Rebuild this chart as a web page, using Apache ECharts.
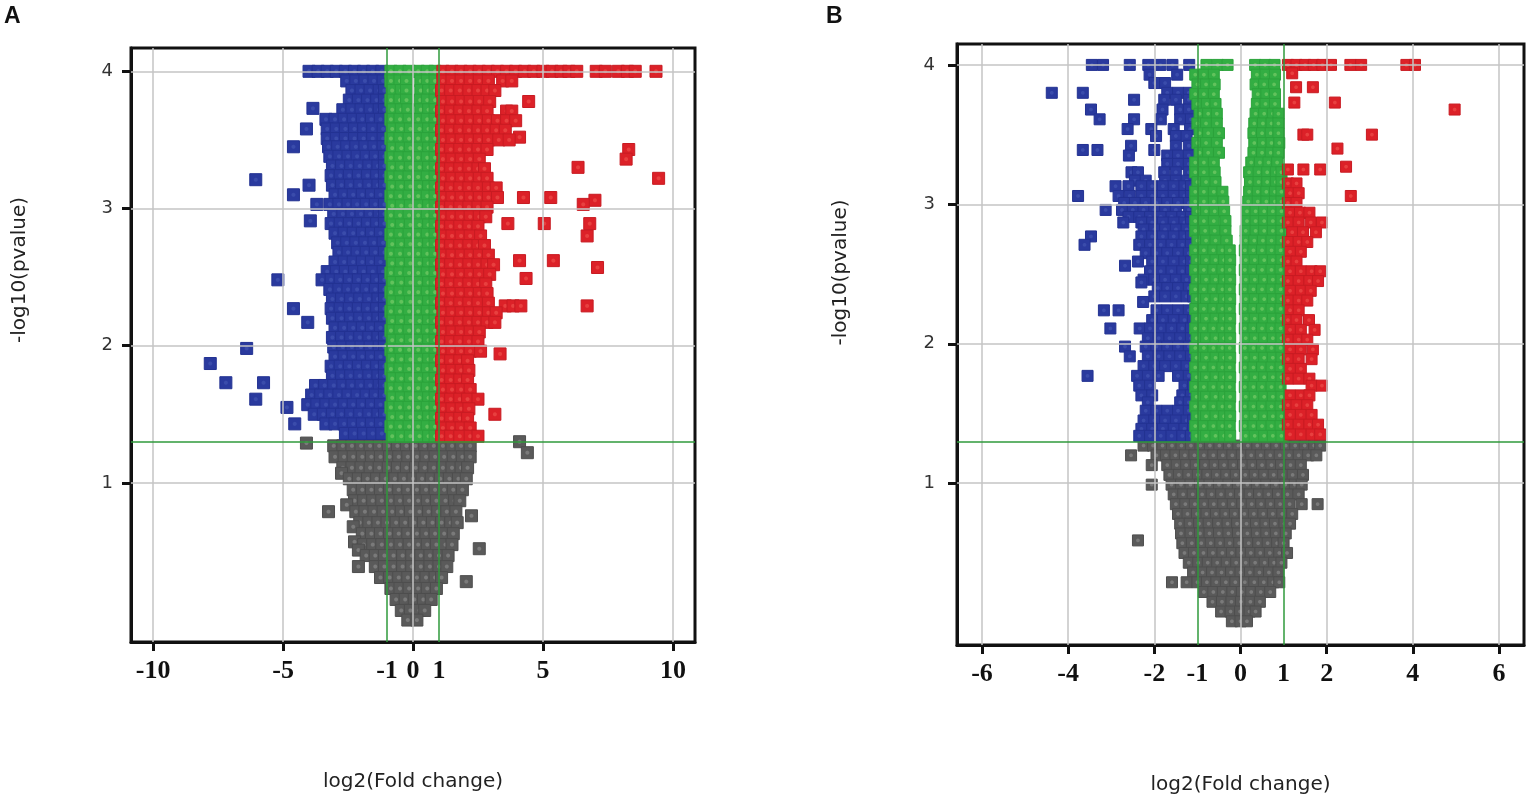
<!DOCTYPE html>
<html>
<head>
<meta charset="utf-8">
<title>volcano plots</title>
<script src="https://cdn.jsdelivr.net/npm/echarts@6/dist/echarts.min.js"></script>
<style>
html,body{margin:0;padding:0;background:#fff}
#main{width:1535px;height:807px}
</style>
</head>
<body>
<div id="main"></div>
<script>
// axis ranges and tick values
var rangeXA = [-10.85, 10.85];
var rangeXB = [-6.58, 6.58];
var rangeYA = [-0.16, 4.17];
var rangeYB = [-0.16, 4.15];
var xTicksA = [-10, -5, 0, 5, 10];
var xLabelsA = [-10, -5, -1, 0, 1, 5, 10];
var xTicksB = [-6, -4, -2, 0, 2, 4, 6];
var xLabelsB = [-6, -4, -2, -1, 0, 1, 2, 4, 6];
var yTicks = [1, 2, 3, 4];
var cutFC = [-1, 1];     // log2 fold change cut-offs
var cutP = 1.3;          // -log10(0.05)

// every row: [ -log10(p), log2FC, log2FC, ... ]
// ---- panel A ----
var blueA = [
 [4.00,-4.0,-3.65,-3.3,-2.95,-2.6,-2.25,-1.9,-1.55,-1.2],
 [3.93,-2.55,-2.2,-1.85,-1.5,-1.15],
 [3.86,-2.35,-2.0,-1.65,-1.3,-1.1],
 [3.79,-2.45,-2.1,-1.75,-1.4,-1.1],
 [3.73,-3.85],
 [3.72,-2.7,-2.35,-2.0,-1.65,-1.3,-1.1],
 [3.65,-3.35,-3.0,-2.65,-2.3,-1.95,-1.6,-1.25],
 [3.58,-4.1,-3.3,-2.95,-2.6,-2.25,-1.9,-1.55,-1.15],
 [3.51,-3.3,-2.95,-2.6,-2.25,-1.9,-1.55,-1.15],
 [3.45,-4.6,-3.25,-2.9,-2.55,-2.2,-1.85,-1.5,-1.15],
 [3.38,-3.2,-2.85,-2.5,-2.15,-1.8,-1.45,-1.1],
 [3.31,-3.1,-2.75,-2.4,-2.05,-1.7,-1.35,-1.1],
 [3.24,-3.15,-2.8,-2.45,-2.1,-1.75,-1.4,-1.1],
 [3.21,-6.05],
 [3.17,-4.0,-3.1,-2.75,-2.4,-2.05,-1.7,-1.35,-1.1],
 [3.10,-4.6,-3.0,-2.65,-2.3,-1.95,-1.6,-1.25],
 [3.03,-3.7,-3.2,-2.85,-2.5,-2.15,-1.8,-1.45,-1.1],
 [2.96,-3.05,-2.7,-2.35,-2.0,-1.65,-1.3,-1.1],
 [2.91,-3.95],
 [2.89,-3.15,-2.8,-2.45,-2.1,-1.75,-1.4,-1.1],
 [2.82,-3.0,-2.65,-2.3,-1.95,-1.6,-1.25],
 [2.75,-2.9,-2.55,-2.2,-1.85,-1.5,-1.15],
 [2.68,-2.85,-2.5,-2.15,-1.8,-1.45,-1.1],
 [2.61,-3.0,-2.65,-2.3,-1.95,-1.6,-1.25],
 [2.54,-3.3,-2.95,-2.6,-2.25,-1.9,-1.55,-1.15],
 [2.48,-5.2,-3.5,-3.15,-2.8,-2.45,-2.1,-1.75,-1.4,-1.1],
 [2.41,-3.2,-2.85,-2.5,-2.15,-1.8,-1.45,-1.1],
 [2.34,-3.1,-2.75,-2.4,-2.05,-1.7,-1.35,-1.1],
 [2.27,-4.6,-3.15,-2.8,-2.45,-2.1,-1.75,-1.4,-1.1],
 [2.20,-3.1,-2.75,-2.4,-2.05,-1.7,-1.35,-1.1],
 [2.17,-4.05],
 [2.13,-3.0,-2.65,-2.3,-1.95,-1.6,-1.25],
 [2.06,-3.1,-2.75,-2.4,-2.05,-1.7,-1.35,-1.1],
 [1.99,-3.05,-2.7,-2.35,-2.0,-1.65,-1.3,-1.1],
 [1.98,-6.4],
 [1.92,-3.0,-2.65,-2.3,-1.95,-1.6,-1.25],
 [1.87,-7.8],
 [1.85,-3.15,-2.8,-2.45,-2.1,-1.75,-1.4,-1.1],
 [1.78,-3.1,-2.75,-2.4,-2.05,-1.7,-1.35,-1.1],
 [1.73,-7.2,-5.75],
 [1.71,-3.75,-3.4,-3.05,-2.7,-2.35,-2.0,-1.65,-1.3,-1.1],
 [1.64,-3.9,-3.55,-3.2,-2.85,-2.5,-2.15,-1.8,-1.45,-1.1],
 [1.61,-6.05],
 [1.57,-4.05,-3.7,-3.35,-3.0,-2.65,-2.3,-1.95,-1.6,-1.25],
 [1.55,-4.85],
 [1.50,-3.8,-3.45,-3.1,-2.75,-2.4,-2.05,-1.7,-1.35,-1.1],
 [1.43,-4.55,-3.35,-3.0,-2.65,-2.3,-1.95,-1.6,-1.25],
 [1.36,-2.6,-2.25,-1.9,-1.55,-1.2]
];
var greenA = [
 [4.00,-0.85,-0.5,-0.15,0.2,0.55,0.85],
 [3.93,-0.85,-0.5,-0.25,0.3,0.55,0.85],
 [3.86,-0.8,-0.45,-0.25,0.3,0.6,0.85],
 [3.79,-0.85,-0.5,-0.25,0.28,0.55,0.85],
 [3.72,-0.8,-0.45,-0.2,0.3,0.6,0.85],
 [3.65,-0.85,-0.5,-0.15,0.2,0.55,0.85],
 [3.58,-0.8,-0.45,-0.1,0.25,0.6,0.85],
 [3.51,-0.85,-0.5,-0.15,0.2,0.55,0.85],
 [3.44,-0.8,-0.45,-0.1,0.25,0.6,0.85],
 [3.37,-0.85,-0.5,-0.15,0.2,0.55,0.85],
 [3.30,-0.8,-0.45,-0.1,0.25,0.6,0.85],
 [3.23,-0.85,-0.5,-0.15,0.2,0.55,0.85],
 [3.16,-0.8,-0.45,-0.1,0.25,0.6,0.85],
 [3.09,-0.85,-0.5,-0.15,0.2,0.55,0.85],
 [3.02,-0.8,-0.45,-0.1,0.25,0.6,0.85],
 [2.95,-0.85,-0.5,-0.15,0.2,0.55,0.85],
 [2.88,-0.8,-0.45,-0.1,0.25,0.6,0.85],
 [2.81,-0.85,-0.5,-0.15,0.2,0.55,0.85],
 [2.74,-0.8,-0.45,-0.1,0.25,0.6,0.85],
 [2.67,-0.85,-0.5,-0.15,0.2,0.55,0.85],
 [2.60,-0.8,-0.45,-0.1,0.25,0.6,0.85],
 [2.53,-0.85,-0.5,-0.15,0.2,0.55,0.85],
 [2.46,-0.8,-0.45,-0.1,0.25,0.6,0.85],
 [2.39,-0.85,-0.5,-0.15,0.2,0.55,0.85],
 [2.32,-0.8,-0.45,-0.1,0.25,0.6,0.85],
 [2.25,-0.85,-0.5,-0.15,0.2,0.55,0.85],
 [2.18,-0.8,-0.45,-0.1,0.25,0.6,0.85],
 [2.11,-0.85,-0.5,-0.15,0.2,0.55,0.85],
 [2.04,-0.8,-0.45,-0.1,0.25,0.6,0.85],
 [1.97,-0.85,-0.5,-0.15,0.2,0.55,0.85],
 [1.90,-0.8,-0.45,-0.1,0.25,0.6,0.85],
 [1.83,-0.85,-0.5,-0.15,0.2,0.55,0.85],
 [1.76,-0.8,-0.45,-0.1,0.25,0.6,0.85],
 [1.69,-0.85,-0.5,-0.15,0.2,0.55,0.85],
 [1.62,-0.8,-0.45,-0.1,0.25,0.6,0.85],
 [1.55,-0.85,-0.5,-0.15,0.2,0.55,0.85],
 [1.48,-0.8,-0.45,-0.1,0.25,0.6,0.85],
 [1.41,-0.85,-0.5,-0.15,0.2,0.55,0.85],
 [1.34,-0.8,-0.45,-0.1,0.25,0.6,0.85]
];
var redA = [
 [4.00,1.15,1.5,1.85,2.2,2.55,2.9,3.25,3.6,3.95,4.3,4.65,5.0,5.35,5.7,6.0,6.3,7.05,7.4,7.9,8.25,8.55,9.35],
 [3.93,1.15,1.5,1.85,2.2,2.55,2.9,3.45,3.8],
 [3.86,1.1,1.45,1.8,2.15,2.5,2.85,3.15],
 [3.78,1.15,1.5,1.85,2.2,2.55,2.95,4.45],
 [3.71,1.1,1.45,1.8,2.15,2.5,2.85,3.6,3.8],
 [3.64,1.15,1.5,1.85,2.2,2.55,2.9,3.25,3.6,3.95],
 [3.57,1.1,1.45,1.8,2.15,2.5,2.85,3.2,3.55],
 [3.52,4.1],
 [3.50,1.15,1.5,1.85,2.2,2.55,2.9,3.3,3.7],
 [3.43,1.1,1.45,1.8,2.15,2.5,2.85,8.3],
 [3.36,1.15,1.5,1.85,2.2,2.55,8.2],
 [3.30,6.35],
 [3.29,1.1,1.45,1.8,2.15,2.5,2.75],
 [3.22,1.15,1.5,1.85,2.2,2.55,2.85,9.45],
 [3.15,1.1,1.45,1.8,2.15,2.5,2.9,3.2],
 [3.08,1.15,1.5,1.85,2.2,2.55,2.9,3.25,4.25,5.3],
 [3.06,7.0],
 [3.03,6.55],
 [3.01,1.1,1.45,1.8,2.15,2.5,2.85],
 [2.94,1.15,1.5,1.85,2.2,2.55,2.8],
 [2.89,3.65,5.05,6.8],
 [2.87,1.1,1.45,1.8,2.15,2.5],
 [2.80,1.15,1.5,1.85,2.2,2.6,6.7],
 [2.73,1.1,1.45,1.8,2.15,2.5,2.75],
 [2.66,1.15,1.5,1.85,2.2,2.55,2.9],
 [2.62,4.1,5.4],
 [2.59,1.1,1.45,1.8,2.15,2.5,2.85,3.1],
 [2.57,7.1],
 [2.52,1.15,1.5,1.85,2.2,2.55,2.95],
 [2.49,4.35],
 [2.45,1.1,1.45,1.8,2.15,2.5,2.8],
 [2.38,1.15,1.5,1.85,2.2,2.55,2.85],
 [2.31,1.1,1.45,1.8,2.15,2.5,2.9],
 [2.29,3.55,3.85,4.15,6.7],
 [2.24,1.15,1.5,1.85,2.2,2.55,2.9,3.2],
 [2.17,1.1,1.45,1.8,2.15,2.5,2.85,3.15],
 [2.10,1.15,1.5,1.85,2.2,2.55],
 [2.03,1.1,1.45,1.8,2.15,2.5],
 [1.96,1.15,1.5,1.85,2.2,2.6],
 [1.94,3.35],
 [1.89,1.1,1.45,1.8,2.1],
 [1.82,1.15,1.5,1.85,2.15],
 [1.75,1.1,1.45,1.8,2.1],
 [1.68,1.15,1.5,1.85,2.2],
 [1.61,1.1,1.45,1.8,2.1,2.5],
 [1.54,1.15,1.5,1.85,2.15],
 [1.50,3.15],
 [1.47,1.1,1.45,1.8,2.1],
 [1.40,1.15,1.5,1.85,2.2],
 [1.34,1.1,1.45,1.8,2.2,2.5]
];
var grayA = [
 [1.30,4.1],
 [1.29,-4.1],
 [1.27,-3.05,-2.7,-2.35,-2.0,-1.65,-1.3,-0.95,-0.6,-0.25,0.1,0.45,0.8,1.15,1.5,1.85,2.2],
 [1.22,4.4],
 [1.19,-3.0,-2.65,-2.3,-1.95,-1.6,-1.25,-0.9,-0.55,-0.2,0.15,0.5,0.85,1.2,1.55,1.9,2.2],
 [1.11,-2.7,-2.35,-2.0,-1.65,-1.3,-0.95,-0.6,-0.25,0.1,0.45,0.8,1.15,1.5,1.85,2.1],
 [1.07,-2.75],
 [1.03,-2.45,-2.1,-1.75,-1.4,-1.05,-0.7,-0.35,0.0,0.35,0.7,1.05,1.4,1.75,2.05],
 [0.95,-2.3,-1.95,-1.6,-1.25,-0.9,-0.55,-0.2,0.15,0.5,0.85,1.2,1.55,1.9],
 [0.87,-2.25,-1.9,-1.55,-1.2,-0.85,-0.5,-0.15,0.2,0.55,0.9,1.25,1.6,1.8],
 [0.84,-2.55],
 [0.79,-3.25,-2.2,-1.85,-1.5,-1.15,-0.8,-0.45,-0.1,0.25,0.6,0.95,1.3,1.65],
 [0.76,2.25],
 [0.71,-2.05,-1.7,-1.35,-1.0,-0.65,-0.3,0.05,0.4,0.75,1.1,1.45,1.7],
 [0.68,-2.3],
 [0.63,-1.95,-1.6,-1.25,-0.9,-0.55,-0.2,0.15,0.5,0.85,1.2,1.55],
 [0.57,-2.25],
 [0.55,-1.9,-1.55,-1.2,-0.85,-0.5,-0.15,0.2,0.55,0.9,1.25,1.5],
 [0.52,2.55],
 [0.51,-2.1],
 [0.47,-1.8,-1.45,-1.1,-0.75,-0.4,-0.05,0.3,0.65,1.0,1.35],
 [0.39,-2.1,-1.45,-1.1,-0.75,-0.4,-0.05,0.3,0.65,1.0,1.3],
 [0.31,-1.25,-0.9,-0.55,-0.2,0.15,0.5,0.85,1.1],
 [0.28,2.05],
 [0.23,-0.85,-0.5,-0.15,0.2,0.55,0.9],
 [0.15,-0.65,-0.3,0.05,0.4,0.7],
 [0.07,-0.45,-0.1,0.25,0.45],
 [0.00,-0.2,0.15]
];

// ---- panel B ----
var blueB = [
 [4.00,-3.45,-3.19,-2.57,-2.14,-1.86,-1.58,-1.19],
 [3.93,-2.11,-1.47],
 [3.87,-2.0,-1.75],
 [3.80,-4.38,-3.66,-1.7,-1.45,-1.2],
 [3.75,-2.47,-1.77,-1.5,-1.2],
 [3.68,-3.47,-1.81,-1.4,-1.2],
 [3.61,-3.27,-2.47,-1.85,-1.4,-1.15],
 [3.54,-2.62,-2.07,-1.55,-1.17],
 [3.49,-1.96,-1.5,-1.25],
 [3.42,-2.54,-1.5,-1.2],
 [3.39,-3.66,-3.32,-2.0],
 [3.35,-2.59,-1.7,-1.45,-1.2],
 [3.29,-1.7,-1.45,-1.2],
 [3.23,-2.53,-2.38,-1.77,-1.5,-1.2],
 [3.17,-2.45,-2.2,-1.75,-1.5,-1.25],
 [3.13,-2.9,-2.6,-2.3,-2.05,-1.8,-1.55,-1.3,-1.15],
 [3.06,-3.77,-2.83,-2.57,-2.3,-2.05,-1.8,-1.55,-1.3,-1.15],
 [3.01,-2.7,-2.45,-2.2,-1.95,-1.7,-1.45,-1.2],
 [2.96,-3.13,-2.75,-2.5,-2.25,-2.0,-1.75,-1.5,-1.2],
 [2.91,-2.6,-2.35,-2.1,-1.85,-1.6,-1.35,-1.15],
 [2.87,-2.72,-2.3,-2.05,-1.8,-1.55,-1.3,-1.15],
 [2.82,-2.25,-2.0,-1.75,-1.5,-1.25],
 [2.77,-3.47,-2.3,-2.05,-1.8,-1.55,-1.3,-1.15],
 [2.71,-3.62,-2.35,-2.1,-1.85,-1.6,-1.35,-1.15],
 [2.65,-2.2,-1.95,-1.7,-1.45,-1.2],
 [2.59,-2.38,-2.05,-1.8,-1.55,-1.3,-1.15],
 [2.56,-2.68],
 [2.52,-2.1,-1.85,-1.6,-1.35,-1.15],
 [2.46,-2.25,-2.0,-1.75,-1.5,-1.25],
 [2.44,-2.3],
 [2.40,-1.92,-1.7,-1.45,-1.2],
 [2.34,-2.0,-1.75,-1.5,-1.25,-1.1],
 [2.30,-2.26],
 [2.24,-3.17,-2.83,-1.95,-1.7,-1.45,-1.2],
 [2.17,-2.05,-1.8,-1.55,-1.3,-1.1],
 [2.11,-3.02,-2.34,-2.1,-1.85,-1.6,-1.35,-1.15],
 [2.04,-2.15,-1.9,-1.65,-1.4,-1.15],
 [1.98,-2.68,-2.2,-1.95,-1.7,-1.45,-1.2],
 [1.91,-2.57,-2.15,-1.9,-1.65,-1.4,-1.15],
 [1.84,-2.25,-2.0,-1.75,-1.5,-1.25],
 [1.77,-3.55,-2.4,-2.15,-1.9,-1.45,-1.2],
 [1.70,-2.35,-2.1,-1.3,-1.1],
 [1.63,-2.3,-2.05,-1.35,-1.15],
 [1.58,-2.15,-1.4,-1.2],
 [1.52,-2.2,-1.95,-1.7,-1.45,-1.2],
 [1.45,-2.25,-2.0,-1.75,-1.5,-1.25,-1.1],
 [1.39,-2.3,-2.05,-1.8,-1.55,-1.3,-1.1],
 [1.34,-2.35,-2.1,-1.85,-1.6,-1.35,-1.15]
];
var greenB = [
 [4.00,-0.79,-0.53,-0.3,0.34,0.57,0.79],
 [3.93,-1.05,-0.85,-0.62,0.38,0.58,0.8],
 [3.86,-1.0,-0.8,-0.6,0.35,0.55,0.78],
 [3.79,-1.05,-0.85,-0.62,0.4,0.6,0.8],
 [3.72,-1.0,-0.78,-0.58,0.38,0.58,0.8],
 [3.65,-0.95,-0.75,-0.55,0.35,0.55,0.75,0.88],
 [3.58,-1.0,-0.8,-0.55,0.32,0.52,0.72,0.88],
 [3.51,-0.95,-0.75,-0.5,0.3,0.5,0.7,0.88],
 [3.44,-1.0,-0.8,-0.55,0.32,0.52,0.72,0.9],
 [3.37,-0.95,-0.75,-0.5,0.3,0.5,0.7,0.88],
 [3.30,-1.05,-0.85,-0.62,0.25,0.45,0.65,0.85],
 [3.23,-1.05,-0.85,-0.6,0.2,0.42,0.62,0.82,0.95],
 [3.16,-1.0,-0.8,-0.58,0.22,0.42,0.62,0.82,0.95],
 [3.09,-1.05,-0.85,-0.62,-0.42,0.2,0.4,0.6,0.8,0.95],
 [3.02,-1.05,-0.85,-0.62,-0.4,0.18,0.4,0.6,0.8,0.95],
 [2.95,-1.0,-0.8,-0.6,-0.38,0.15,0.35,0.55,0.75,0.95],
 [2.88,-1.05,-0.85,-0.62,-0.35,0.15,0.35,0.55,0.75,0.95],
 [2.81,-1.05,-0.82,-0.6,-0.35,0.12,0.35,0.55,0.75,0.95],
 [2.74,-1.0,-0.8,-0.58,-0.32,0.12,0.32,0.52,0.72,0.95],
 [2.67,-1.05,-0.85,-0.63,-0.42,-0.25,0.1,0.3,0.5,0.72,0.93],
 [2.60,-1.02,-0.8,-0.58,-0.38,-0.24,0.12,0.33,0.55,0.75,0.95],
 [2.53,-1.05,-0.85,-0.63,-0.42,-0.25,0.1,0.3,0.5,0.72,0.93],
 [2.46,-1.02,-0.8,-0.58,-0.38,-0.24,0.12,0.33,0.55,0.75,0.95],
 [2.39,-1.05,-0.85,-0.63,-0.42,-0.25,0.1,0.3,0.5,0.72,0.93],
 [2.32,-1.02,-0.8,-0.58,-0.38,-0.24,0.12,0.33,0.55,0.75,0.95],
 [2.25,-1.05,-0.85,-0.63,-0.42,-0.25,0.1,0.3,0.5,0.72,0.93],
 [2.18,-1.02,-0.8,-0.58,-0.38,-0.24,0.12,0.33,0.55,0.75,0.95],
 [2.11,-1.05,-0.85,-0.63,-0.42,-0.25,0.1,0.3,0.5,0.72,0.93],
 [2.04,-1.02,-0.8,-0.58,-0.38,-0.24,0.12,0.33,0.55,0.75,0.95],
 [1.97,-1.05,-0.85,-0.63,-0.42,-0.25,0.1,0.3,0.5,0.72,0.93],
 [1.90,-1.02,-0.8,-0.58,-0.38,-0.24,0.12,0.33,0.55,0.75,0.95],
 [1.83,-1.05,-0.85,-0.63,-0.42,-0.25,0.1,0.3,0.5,0.72,0.93],
 [1.76,-1.02,-0.8,-0.58,-0.38,-0.24,0.12,0.33,0.55,0.75,0.95],
 [1.69,-1.05,-0.85,-0.63,-0.42,-0.25,0.1,0.3,0.5,0.72,0.93],
 [1.62,-1.02,-0.8,-0.58,-0.38,-0.24,0.12,0.33,0.55,0.75,0.95],
 [1.55,-1.05,-0.85,-0.63,-0.42,-0.25,0.1,0.3,0.5,0.72,0.93],
 [1.48,-1.02,-0.8,-0.58,-0.38,-0.24,0.12,0.33,0.55,0.75,0.95],
 [1.41,-1.05,-0.85,-0.63,-0.42,-0.25,0.1,0.3,0.5,0.72,0.93],
 [1.34,-1.02,-0.8,-0.58,-0.38,-0.24,0.12,0.33,0.55,0.75,0.95]
];
var redB = [
 [4.00,1.1,1.3,1.5,1.7,1.9,2.1,2.55,2.8,3.85,4.05],
 [3.94,1.2],
 [3.84,1.29,1.68],
 [3.73,1.25,2.19],
 [3.68,4.97],
 [3.50,1.46,1.55,3.05],
 [3.40,2.25],
 [3.27,2.45],
 [3.25,1.1,1.46,1.85],
 [3.15,1.1,1.3],
 [3.08,1.15,1.35],
 [3.06,2.56],
 [3.01,1.1,1.3],
 [2.94,1.15,1.38,1.6],
 [2.87,1.1,1.35,1.63,1.89],
 [2.80,1.2,1.45,1.75],
 [2.73,1.1,1.35,1.55],
 [2.66,1.15,1.4],
 [2.59,1.1,1.3],
 [2.52,1.15,1.4,1.65,1.85],
 [2.45,1.1,1.35,1.6,1.8],
 [2.38,1.15,1.4,1.63],
 [2.31,1.1,1.35,1.55],
 [2.24,1.15,1.35],
 [2.17,1.1,1.3,1.59],
 [2.10,1.15,1.4,1.72],
 [2.03,1.1,1.35,1.55],
 [1.96,1.15,1.4,1.68],
 [1.89,1.1,1.35,1.65],
 [1.82,1.15,1.4],
 [1.75,1.1,1.35,1.6],
 [1.70,1.65,1.89],
 [1.63,1.15,1.4,1.6],
 [1.56,1.1,1.3,1.55],
 [1.49,1.15,1.4,1.65],
 [1.42,1.1,1.35,1.6,1.8],
 [1.35,1.15,1.4,1.65,1.85]
];
var grayB = [
 [1.27,-2.25,-2.03,-1.81,-1.59,-1.37,-1.15,-0.93,-0.71,-0.49,-0.27,-0.05,0.17,0.39,0.61,0.83,1.05,1.27,1.49,1.71,1.85],
 [1.20,-2.54,-1.95,-1.73,-1.51,-1.29,-1.07,-0.85,-0.63,-0.41,-0.19,0.03,0.25,0.47,0.69,0.91,1.13,1.35,1.57,1.76],
 [1.13,-2.06,-1.7,-1.48,-1.26,-1.04,-0.82,-0.6,-0.38,-0.16,0.06,0.28,0.5,0.72,0.94,1.16,1.4],
 [1.06,-1.65,-1.43,-1.21,-0.99,-0.77,-0.55,-0.33,-0.11,0.11,0.33,0.55,0.77,0.99,1.21,1.45],
 [0.99,-2.06,-1.6,-1.38,-1.16,-0.94,-0.72,-0.5,-0.28,-0.06,0.16,0.38,0.6,0.82,1.04,1.26,1.42],
 [0.92,-1.55,-1.33,-1.11,-0.89,-0.67,-0.45,-0.23,-0.01,0.21,0.43,0.65,0.87,1.09,1.35],
 [0.85,-1.5,-1.28,-1.06,-0.84,-0.62,-0.4,-0.18,0.04,0.26,0.48,0.7,0.92,1.14,1.42,1.79],
 [0.78,-1.45,-1.23,-1.01,-0.79,-0.57,-0.35,-0.13,0.09,0.31,0.53,0.75,0.97,1.2],
 [0.71,-1.4,-1.18,-0.96,-0.74,-0.52,-0.3,-0.08,0.14,0.36,0.58,0.8,1.02,1.15],
 [0.64,-1.38,-1.16,-0.94,-0.72,-0.5,-0.28,-0.06,0.16,0.38,0.6,0.82,1.05],
 [0.59,-2.38],
 [0.57,-1.35,-1.13,-0.91,-0.69,-0.47,-0.25,-0.03,0.19,0.41,0.63,0.85,1.0],
 [0.50,-1.3,-1.08,-0.86,-0.64,-0.42,-0.2,0.02,0.24,0.46,0.68,0.9,1.08],
 [0.43,-1.2,-0.98,-0.76,-0.54,-0.32,-0.1,0.12,0.34,0.56,0.78,0.95],
 [0.36,-1.1,-0.88,-0.66,-0.44,-0.22,0.0,0.22,0.44,0.66,0.88],
 [0.29,-1.59,-1.25,-1.0,-0.78,-0.56,-0.34,-0.12,0.1,0.32,0.54,0.76,0.9],
 [0.22,-0.85,-0.63,-0.41,-0.19,0.03,0.25,0.47,0.69],
 [0.15,-0.65,-0.43,-0.21,0.01,0.23,0.45],
 [0.08,-0.45,-0.23,-0.01,0.21,0.35],
 [0.01,-0.2,0.0,0.15]
];

function toPoints(rows) {
  var pts = [];
  rows.forEach(function (r) {
    for (var i = 1; i < r.length; i++) pts.push([r[i], r[0]]);
  });
  return pts;
}

// solid square with a small lighter middle, like the original markers
function squareStyle(light, base, edge) {
  return {
    color: {
      type: 'radial', x: 0.5, y: 0.5, r: 0.5,
      colorStops: [{offset: 0, color: light}, {offset: 0.22, color: light}, {offset: 0.38, color: base}, {offset: 1, color: base}]
    },
    borderColor: edge,
    borderWidth: 1,
    opacity: 1
  };
}
var styles = {
  gray: squareStyle('#7a7a7a', '#5a5a5a', '#4e4e4e'),
  blue: squareStyle('#3a4cab', '#2a3a9e', '#233292'),
  green: squareStyle('#62c25c', '#33ae43', '#2ba33b'),
  red: squareStyle('#e8403f', '#dc2128', '#c81b22')
};

function pointSeries(idx, rows, style, size) {
  return {
    type: 'scatter', xAxisIndex: idx, yAxisIndex: idx,
    symbol: 'rect', symbolSize: size,
    data: toPoints(rows), itemStyle: style,
    progressive: 0, silent: true, z: 3
  };
}
function gridLines(idx, xs) {
  var d = xs.map(function (v) { return {xAxis: v}; })
    .concat(yTicks.map(function (v) { return {yAxis: v}; }));
  return {
    type: 'scatter', xAxisIndex: idx, yAxisIndex: idx, data: [], z: 1, silent: true,
    markLine: {symbol: ['none', 'none'], silent: true, animation: false, label: {show: false},
      lineStyle: {color: '#c4c4c4', width: 1.5, type: 'solid'}, data: d}
  };
}
function cutLines(idx) {
  return {
    type: 'scatter', xAxisIndex: idx, yAxisIndex: idx, data: [], z: 6, silent: true,
    markLine: {symbol: ['none', 'none'], silent: true, animation: false, label: {show: false},
      lineStyle: {color: '#2f9a3b', width: 1.5, type: 'solid'},
      data: [{yAxis: cutP}, {xAxis: cutFC[0]}, {xAxis: cutFC[1]}]}
  };
}
function xAxisCfg(idx, range, ticks, labels) {
  return {
    gridIndex: idx, type: 'value', min: range[0], max: range[1],
    name: 'log2(Fold change)', nameLocation: 'middle', nameGap: 130,
    nameTextStyle: {fontFamily: 'DejaVu Sans', fontSize: 20, color: '#222'},
    axisLine: {show: true, onZero: false, lineStyle: {color: '#111', width: 3}},
    splitLine: {show: false},
    axisTick: {show: true, customValues: ticks, length: 9, lineStyle: {color: '#111', width: 3}},
    axisLabel: {customValues: labels, margin: 16, hideOverlap: false,
      fontFamily: 'Liberation Serif', fontWeight: 'bold', fontSize: 26, color: '#111'}
  };
}
function yAxisCfg(idx, range, gap, lift, margin) {
  return {
    gridIndex: idx, type: 'value', min: range[0], max: range[1],
    name: '-log10(pvalue)', nameLocation: 'middle', nameGap: gap,
    nameTextStyle: {fontFamily: 'DejaVu Sans', fontSize: 20, color: '#222', padding: [0, 0, 0, lift * 2]},
    axisLine: {show: true, onZero: false, lineStyle: {color: '#111', width: 3}},
    splitLine: {show: false},
    axisTick: {show: true, customValues: yTicks, length: 9, lineStyle: {color: '#111', width: 3}},
    axisLabel: {customValues: yTicks, margin: margin, fontFamily: 'DejaVu Sans', fontSize: 18, color: '#333'}
  };
}

var chart = echarts.init(document.getElementById('main'));
chart.setOption({
  animation: false,
  grid: [
    {left: 131, top: 48, width: 564, height: 594, show: true, borderColor: '#111', borderWidth: 3},
    {left: 957, top: 44, width: 567, height: 601, show: true, borderColor: '#111', borderWidth: 3}
  ],
  xAxis: [
    xAxisCfg(0, rangeXA, xTicksA, xLabelsA),
    xAxisCfg(1, rangeXB, xTicksB, xLabelsB)
  ],
  yAxis: [
    yAxisCfg(0, rangeYA, 101, 75, 18),
    yAxisCfg(1, rangeYB, 106, 72, 22)
  ],
  graphic: [
    {type: 'text', left: 4, top: 5, style: {text: 'A', fontFamily: 'Liberation Sans', fontWeight: 'bold', fontSize: 23, fill: '#111'}},
    {type: 'text', left: 826, top: 5, style: {text: 'B', fontFamily: 'Liberation Sans', fontWeight: 'bold', fontSize: 23, fill: '#111'}}
  ],
  series: [
    gridLines(0, xTicksA),
    pointSeries(0, grayA, styles.gray, 12),
    pointSeries(0, blueA, styles.blue, 12),
    pointSeries(0, greenA, styles.green, 12),
    pointSeries(0, redA, styles.red, 12),
    cutLines(0),
    gridLines(1, xTicksB),
    pointSeries(1, grayB, styles.gray, 11),
    pointSeries(1, blueB, styles.blue, 11),
    pointSeries(1, greenB, styles.green, 11),
    pointSeries(1, redB, styles.red, 11),
    cutLines(1)
  ]
});
</script>
</body>
</html>
